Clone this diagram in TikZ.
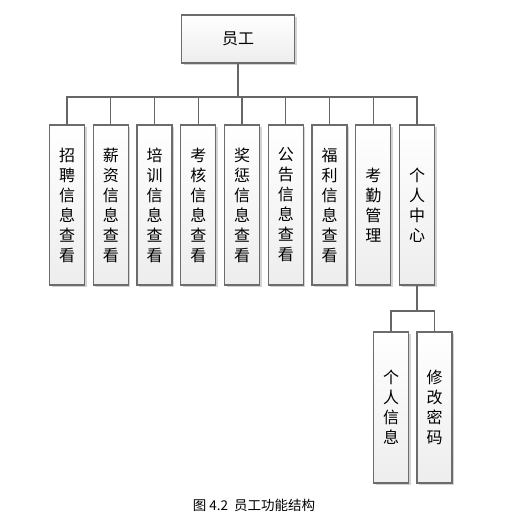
\documentclass[tikz,border=0pt]{standalone}
\usepackage{fontspec}
\setmainfont{Noto Sans CJK SC}
\usepackage{tikz}
\usetikzlibrary{positioning, shadows}
\tikzset{
    rootbox/.style={rectangle, draw=gray!85!black, line width=1.2pt, top color=white, bottom color=gray!14, minimum width=113pt, minimum height=48pt, inner sep=0pt, outer sep=0pt, font=\fontsize{16}{18}\selectfont, drop shadow={shadow xshift=2pt, shadow yshift=-2pt, opacity=0.35, fill=gray}},
    itembox/.style={rectangle, draw=gray!85!black, line width=1.2pt, top color=white, bottom color=gray!14, minimum width=35pt, minimum height=160pt, inner sep=0pt, outer sep=0pt, align=center, font=\fontsize{16}{20}\selectfont, drop shadow={shadow xshift=2pt, shadow yshift=-2pt, opacity=0.35, fill=gray}},
    conn/.style={draw=gray!80!black, line width=1.2pt},
}
\begin{document}
\begin{tikzpicture}[x=1pt, y=1pt]
        \useasboundingbox (0,0) rectangle (504,-529);
        % Root
        \node[rootbox] (emp) at (238,-39) {员工};

        % Functions
        \node[itembox, anchor=north] (zp) at (67,-125) {招\\聘\\信\\息\\查\\看};
        \node[itembox, right=8.75pt of zp] (xz) {薪\\资\\信\\息\\查\\看};
        \node[itembox, right=8.75pt of xz] (px) {培\\训\\信\\息\\查\\看};
        \node[itembox, right=8.75pt of px] (kh) {考\\核\\信\\息\\查\\看};
        \node[itembox, right=8.75pt of kh] (jc) {奖\\惩\\信\\息\\查\\看};
        \node[itembox, right=8.75pt of jc] (gg) {公\\告\\信\\息\\查\\看};
        \node[itembox, right=8.75pt of gg] (fl) {福\\利\\信\\息\\查\\看};
        \node[itembox, right=8.75pt of fl] (kq) {考\\勤\\管\\理};
        \node[itembox, right=8.75pt of kq] (grzx) {个\\人\\中\\心};

        % Personal centre
        \node[itembox, anchor=north, minimum height=151pt] (grxx) at (391,-332) {个\\人\\信\\息};
        \node[itembox, minimum height=151pt, right=8.5pt of grxx] (xgmm) {修\\改\\密\\码};

        % Caption
        \node[font=\fontsize{13.5}{15}\selectfont] (cap) at (254,-505) {图 4.2\ \ 员工功能结构};

        % Connectors
        \draw[conn] (emp.south) -- ++(0,-34) -| (zp.north);
        \draw[conn] (emp.south) -- ++(0,-34) -| (xz.north);
        \draw[conn] (emp.south) -- ++(0,-34) -| (px.north);
        \draw[conn] (emp.south) -- ++(0,-34) -| (kh.north);
        \draw[conn] (emp.south) -- ++(0,-34) -| (jc.north);
        \draw[conn] (emp.south) -- ++(0,-34) -| (gg.north);
        \draw[conn] (emp.south) -- ++(0,-34) -| (fl.north);
        \draw[conn] (emp.south) -- ++(0,-34) -| (kq.north);
        \draw[conn] (emp.south) -- ++(0,-34) -| (grzx.north);
        \draw[conn] (grzx.south) -- ++(0,-26) -| (grxx.north);
        \draw[conn] (grzx.south) -- ++(0,-26) -| (xgmm.north);
    \end{tikzpicture}
\end{document}
